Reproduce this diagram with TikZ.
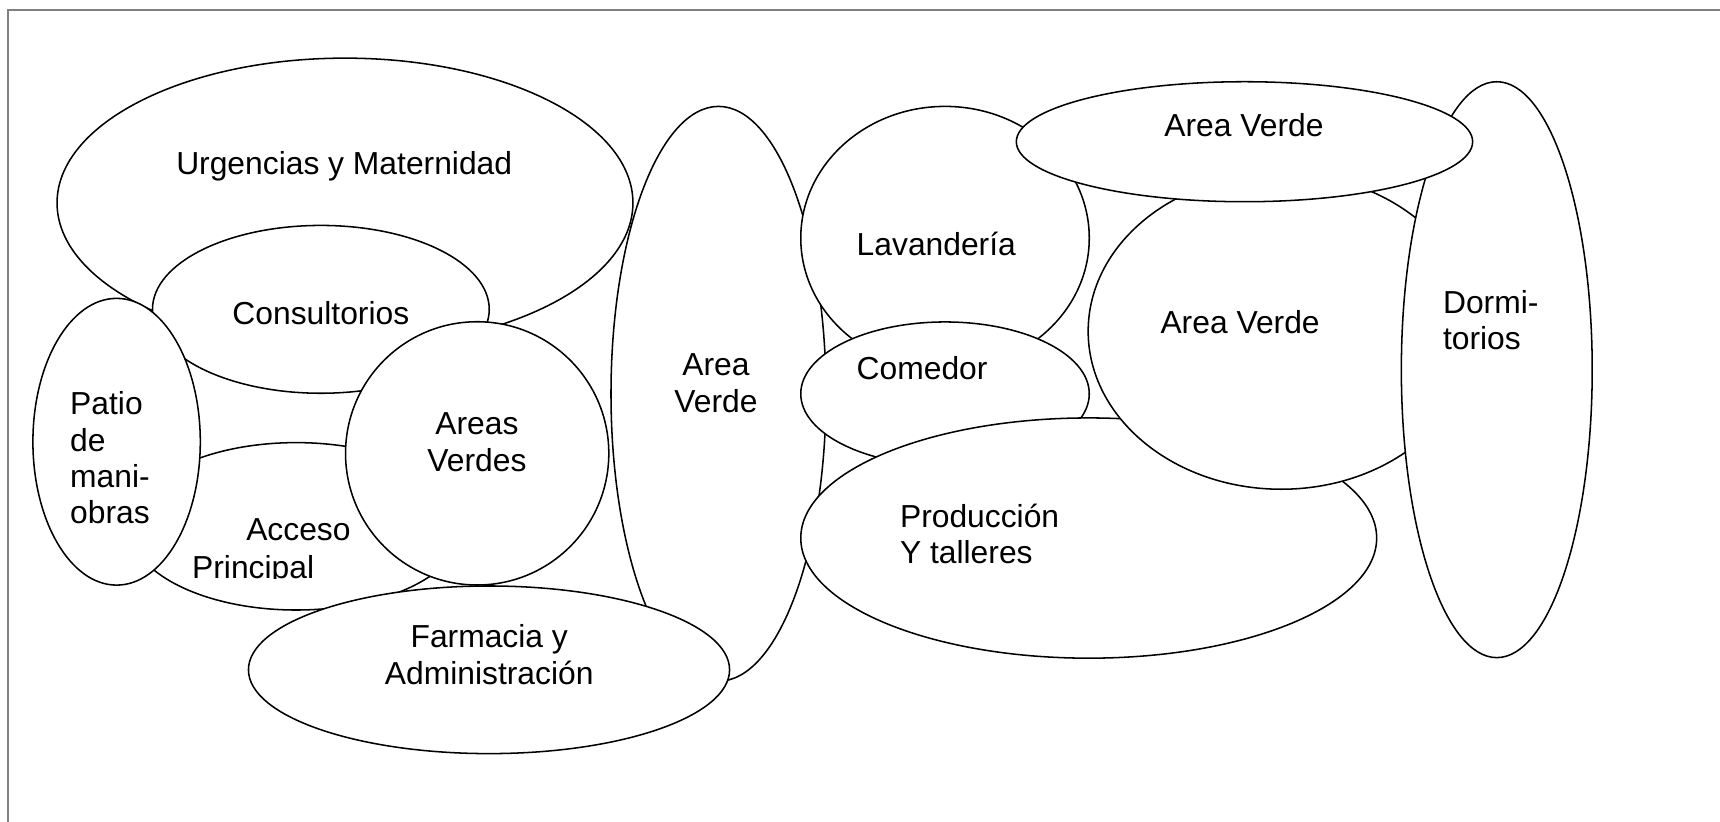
\documentclass[tikz,border=0pt]{standalone}
\usepackage{fontspec}
\setmainfont{Liberation Sans}
\usetikzlibrary{shapes.geometric}
\begin{document}
\begin{tikzpicture}[x=0.5pt,y=-0.5pt,
  bubble/.style={ellipse, draw=black, fill=white, line width=0.7pt, inner sep=0pt, outer sep=0pt},
  lbl/.style={inner sep=0pt, outer sep=0pt, font=\fontsize{14.5}{16.8}\selectfont},
  lblc/.style={lbl, anchor=base},
  lbll/.style={lbl, anchor=base west},
  framel/.style={draw=gray, line width=0.8pt}]
\useasboundingbox (0,0) rectangle (1568,749);
% frame
\coordinate (f1) at (7.5,9.1);
\coordinate (f2) at (1568,9.1);
\coordinate (f3) at (7.5,749);
\draw[framel] (f2) -- (f1) -- (f3);
% bubbles in stacking order
\node[bubble, minimum width=262.5pt, minimum height=132pt] (urg) at (314.5,185) {};
\node[bubble, minimum width=153.5pt, minimum height=76.5pt] (cons) at (292.5,282) {};
\node[bubble, minimum width=152pt, minimum height=76.3pt] (acc) at (270,479.8) {};
\node[bubble, minimum width=76.3pt, minimum height=130.7pt] (patio) at (106.3,402.7) {};
\node[bubble, minimum width=120pt, minimum height=120pt] (areas) at (435,413.3) {};
\node[bubble, minimum width=98pt, minimum height=262pt] (avmid) at (655,359) {};
\node[bubble, minimum width=219.3pt, minimum height=76.4pt] (farm) at (445.8,610.6) {};
\node[bubble, minimum width=131.5pt, minimum height=120pt] (lav) at (861.5,217) {};
\node[bubble, minimum width=131.5pt, minimum height=65.5pt] (com) at (861.5,359) {};
\node[bubble, minimum width=262.5pt, minimum height=109.5pt] (prod) at (992.5,490.5) {};
\node[bubble, minimum width=176pt, minimum height=144pt] (avbig) at (1168,302) {};
\node[bubble, minimum width=87pt, minimum height=262.5pt] (dorm) at (1364.5,337) {};
\node[bubble, minimum width=208pt, minimum height=54.7pt] (avtop) at (1134.5,129.2) {};
% labels
\node[lblc] (t-urg) at (313.8,159.5) {Urgencias y Maternidad};
\node[lblc] (t-cons) at (292.5,296) {Consultorios};
\node[lbll] (t-p1) at (64,378) {Patio};
\node[lbll] (t-p2) at (64,411.2) {de};
\node[lbll] (t-p3) at (64,444.4) {mani-};
\node[lbll] (t-p4) at (64,477.6) {obras};
\node[lbll] (t-acc1) at (224.5,492.3) {Acceso};
\begin{scope}
\clip (150,495) rectangle (340,527.5);
\node[lbll] (t-acc2) at (175.2,527.2) {Principal};
\end{scope}
\node[lblc] (t-ar1) at (434.8,396) {Areas};
\node[lblc] (t-ar2) at (434.8,429.4) {Verdes};
\node[lblc] (t-f1) at (446,590.5) {Farmacia y};
\node[lblc] (t-f2) at (446,623.8) {Administración};
\node[lblc] (t-av1) at (652.7,342.5) {Area};
\node[lblc] (t-av2) at (652.7,376) {Verde};
\node[lbll] (t-lav) at (781,232.5) {Lavandería};
\node[lbll] (t-com) at (781,346.4) {Comedor};
\node[lblc] (t-avt) at (1134,124.6) {Area Verde};
\node[lblc] (t-avb) at (1130.5,303.9) {Area Verde};
\node[lbll] (t-pr1) at (820.5,481) {Producción};
\node[lbll] (t-pr2) at (820.5,514) {Y talleres};
\node[lbll] (t-d1) at (1315.5,285.6) {Dormi-};
\node[lbll] (t-d2) at (1315.5,319) {torios};
\end{tikzpicture}
\end{document}
